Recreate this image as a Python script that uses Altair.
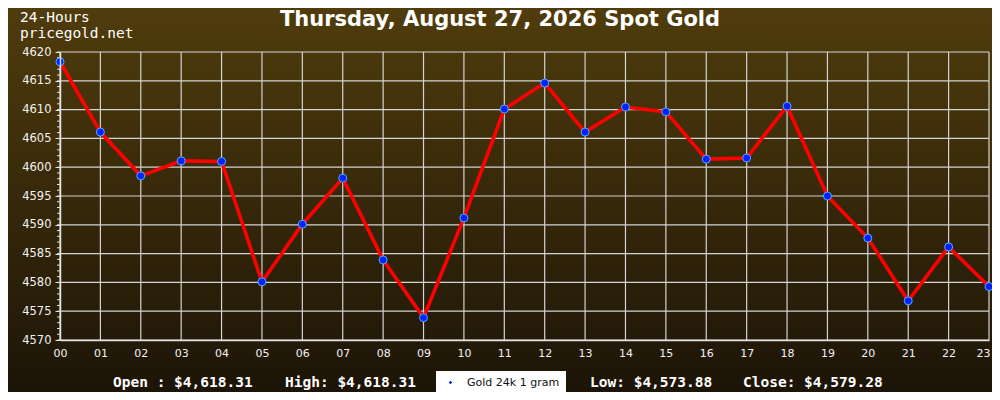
import altair as alt
import pandas as pd

hours = ["00", "01", "02", "03", "04", "05", "06", "07", "08", "09", "10", "11",
         "12", "13", "14", "15", "16", "17", "18", "19", "20", "21", "22", "23"]
prices = [4618.31, 4606.1, 4598.5, 4601.1, 4601.0, 4580.1, 4590.1, 4598.1,
          4583.9, 4573.88, 4591.2, 4610.1, 4614.6, 4606.1, 4610.45, 4609.6,
          4601.4, 4601.6, 4610.6, 4595.0, 4587.7, 4576.8, 4586.15, 4579.28]
y_ticks = [4570, 4575, 4580, 4585, 4590, 4595, 4600, 4605, 4610, 4615, 4620]
minor_ticks = list(range(4570, 4621))
series_name = "Gold 24k 1 gram"
title_text = "Thursday, August 27, 2026 Spot Gold"

open_p, close_p = prices[0], prices[-1]
high_p, low_p = max(prices), min(prices)

df = pd.DataFrame({"hour": hours, "price": prices, "series": series_name})
minor_df = pd.DataFrame({"v": minor_ticks})
ygrid_df = pd.DataFrame({"v": y_ticks})
xgrid_df = pd.DataFrame({"hour": hours})

W, H = 929, 288
MONO = "DejaVu Sans Mono"
SANS = "DejaVu Sans"
GRID = "#d4d4d4"
AXC = "#e4e4e4"

xs = alt.Scale(type="point", padding=0, domain=hours)
ys = alt.Scale(domain=[4570, 4620], nice=False, zero=False)

x_axis = alt.Axis(title=None, labelAngle=0, tickSize=0, labelPadding=7,
                  labelColor="#f2f2f2", labelFont=SANS, labelFontSize=11,
                  labelOffset=alt.condition("datum.value == '23'", alt.value(-6), alt.value(0)),
                  grid=False, domainColor=AXC, domainWidth=1.5, zindex=1)
y_axis = alt.Axis(title=None, values=y_ticks, format="d", tickSize=5, tickColor=AXC,
                  labelPadding=4, labelColor="#f2f2f2", labelFont=SANS,
                  labelFontSize=11.5, grid=False, domainColor=AXC,
                  domainWidth=1.5, zindex=1)

bg = alt.Chart(pd.DataFrame({"a": [0]})).mark_rect(
    fill=alt.Gradient(gradient="linear", x1=0, y1=0, x2=0, y2=1,
                      stops=[alt.GradientStop(offset=0, color="#503c0c"),
                             alt.GradientStop(offset=1, color="#1c1407")])
).encode(x=alt.value(-52), x2=alt.value(W + 3), y=alt.value(-44), y2=alt.value(H + 52))

xgrid = alt.Chart(xgrid_df).mark_rule(color=GRID, strokeWidth=1.2).encode(
    x=alt.X("hour:N", scale=xs, sort=hours, axis=x_axis), y=alt.value(0), y2=alt.value(H)
)
ygrid = alt.Chart(ygrid_df).mark_rule(color=GRID, strokeWidth=1.2).encode(
    y=alt.Y("v:Q", scale=ys, axis=y_axis), x=alt.value(0), x2=alt.value(W)
)

base = alt.Chart(df)

line = base.mark_line(color="#ff0000", strokeWidth=3.6).encode(
    x=alt.X("hour:N", scale=xs, sort=hours, axis=x_axis),
    y=alt.Y("price:Q", scale=ys, axis=y_axis),
)

pts = base.mark_circle(size=64, opacity=1, stroke="#55aaff", strokeWidth=1).encode(
    x=alt.X("hour:N", scale=xs, sort=hours, axis=x_axis),
    y=alt.Y("price:Q", scale=ys, axis=y_axis),
    color=alt.Color("series:N", scale=alt.Scale(range=["#0022ff"]),
                    legend=alt.Legend(title=None, orient="none", legendX=376, legendY=319,
                                      fillColor="#ffffff", padding=6, symbolType="diamond",
                                      symbolSize=12, symbolStrokeWidth=0,
                                      labelFont=SANS, labelFontSize=11, labelColor="#111111",
                                      labelOffset=11, symbolOffset=3)),
)

minor = alt.Chart(minor_df).mark_rule(color=AXC, strokeWidth=1).encode(
    y=alt.Y("v:Q", scale=ys, axis=y_axis), x=alt.value(-3), x2=alt.value(0)
)

def txt(s, x, y, font=MONO, size=15, weight="normal", align="left"):
    return alt.Chart(pd.DataFrame({"t": [s]})).mark_text(
        font=font, fontSize=size, fontWeight=weight, color="#ffffff",
        align=align, baseline="middle"
    ).encode(text="t:N", x=alt.value(x), y=alt.value(y))

texts = [
    txt(title_text, 440, -32, font=SANS, size=21, weight="bold", align="center"),
    txt("24-Hours", -40, -34, size=14.5),
    txt("pricegold.net", -40, -18, size=14.5),
    txt(f"Open : ${open_p:,.2f}", 53, 331, size=14.5, weight="bold"),
    txt(f"High: ${high_p:,.2f}", 225, 331, size=14.5, weight="bold"),
    txt(f"Low: ${low_p:,.2f}", 530, 331, size=14.5, weight="bold"),
    txt(f"Close: ${close_p:,.2f}", 683, 331, size=14.5, weight="bold"),
]

chart = alt.layer(bg, xgrid, ygrid, minor, line, pts, *texts).properties(
    width=W, height=H,
    autosize=alt.AutoSizeParams(type="none"),
    padding={"left": 52, "top": 44, "right": 3, "bottom": 52},
).configure_view(stroke=None)

chart.save("out.html", embed_options={"renderer": "svg", "actions": False})
